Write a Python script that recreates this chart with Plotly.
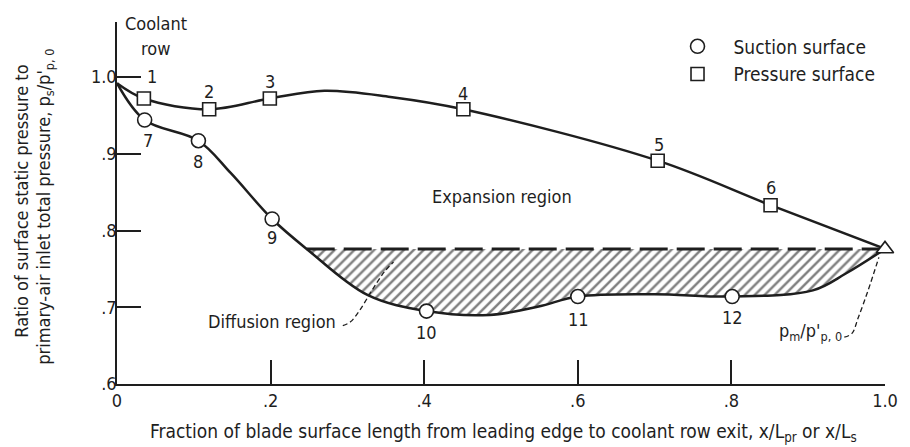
import plotly.graph_objects as go

# ---------------- data ----------------
# measured points (coolant rows)
press_x = [0.035, 0.120, 0.199, 0.451, 0.704, 0.851]
press_y = [0.972, 0.958, 0.972, 0.958, 0.891, 0.833]
press_labels = ["1", "2", "3", "4", "5", "6"]

suct_x = [0.036, 0.106, 0.202, 0.403, 0.600, 0.801]
suct_y = [0.944, 0.917, 0.815, 0.695, 0.714, 0.714]
suct_labels = ["7", "8", "9", "10", "11", "12"]

# mixed-out exit value p_m/p'_p,0
mix_x = [1.0]
mix_y = [0.776]

# faired curves as drawn in the picture (knots)
press_curve_x = [0.0, 0.035, 0.120, 0.199, 0.270, 0.356, 0.451, 0.704, 0.851, 1.0]
press_curve_y = [0.992, 0.972, 0.958, 0.972, 0.982, 0.974, 0.958, 0.891, 0.833, 0.776]

suct_curve_x = [0.0, 0.036, 0.106, 0.148, 0.202, 0.247, 0.326, 0.403, 0.485, 0.549,
                0.600, 0.700, 0.801, 0.906, 0.949, 1.0]
suct_curve_y = [0.992, 0.944, 0.917, 0.875, 0.815, 0.776, 0.716, 0.695, 0.690, 0.701,
                0.714, 0.717, 0.714, 0.722, 0.744, 0.776]

diffusion_level = 0.776
diffusion_start = 0.247

# leader lines
diff_leader_x = [0.294, 0.304, 0.316, 0.332, 0.348, 0.360]
diff_leader_y = [0.676, 0.681, 0.696, 0.722, 0.746, 0.759]
mix_leader_x = [0.947, 0.957, 0.965, 0.978, 0.992]
mix_leader_y = [0.661, 0.666, 0.686, 0.722, 0.765]

x_tickvals = [0, 0.2, 0.4, 0.6, 0.8, 1.0]
x_ticktext = ["0", ".2", ".4", ".6", ".8", "1.0"]
y_tickvals = [0.6, 0.7, 0.8, 0.9, 1.0]
y_ticktext = [".6", ".7", ".8", ".9", "1.0"]

# ---------------- figure ----------------
INK = "#1e1e1e"
FONT = "DejaVu Sans Condensed, Liberation Sans Narrow, Liberation Sans, sans-serif"
FS = 18

i0 = suct_curve_x.index(diffusion_start)
fill_x = suct_curve_x[i0:]
fill_y = suct_curve_y[i0:]

fig = go.Figure()

# dashed upper boundary of the diffusion region
fig.add_trace(go.Scatter(
    x=[diffusion_start, mix_x[0]], y=[diffusion_level, diffusion_level],
    mode="lines", line=dict(color=INK, width=3, dash="28px,9px"),
    showlegend=False, hoverinfo="skip"))

# hatched diffusion region
fig.add_trace(go.Scatter(
    x=fill_x, y=fill_y, mode="lines", line=dict(width=0, shape="spline"),
    fill="tonexty", fillcolor="rgba(0,0,0,0)",
    fillpattern=dict(shape="/", size=7, solidity=0.35, fgcolor="#000000",
                     bgcolor="rgba(0,0,0,0)"),
    showlegend=False, hoverinfo="skip"))

# faired curves
fig.add_trace(go.Scatter(
    x=suct_curve_x, y=suct_curve_y, mode="lines",
    line=dict(color=INK, width=2.5, shape="spline", smoothing=1.0),
    showlegend=False, hoverinfo="skip"))
fig.add_trace(go.Scatter(
    x=press_curve_x, y=press_curve_y, mode="lines",
    line=dict(color=INK, width=2.5, shape="spline", smoothing=1.0),
    showlegend=False, hoverinfo="skip"))

# leader lines
fig.add_trace(go.Scatter(
    x=diff_leader_x, y=diff_leader_y, mode="lines",
    line=dict(color=INK, width=1.3, dash="5px,3px", shape="spline"),
    showlegend=False, hoverinfo="skip"))
fig.add_trace(go.Scatter(
    x=mix_leader_x, y=mix_leader_y, mode="lines",
    line=dict(color=INK, width=1.3, dash="5px,3px", shape="spline"),
    showlegend=False, hoverinfo="skip"))

# measured points
fig.add_trace(go.Scatter(
    x=suct_x, y=suct_y, mode="markers", name="Suction surface",
    marker=dict(symbol="circle", size=14, color="white",
                line=dict(color=INK, width=1.6)),
    cliponaxis=False))
fig.add_trace(go.Scatter(
    x=press_x, y=press_y, mode="markers", name="Pressure surface",
    marker=dict(symbol="square", size=13, color="white",
                line=dict(color=INK, width=1.6)),
    cliponaxis=False))
fig.add_trace(go.Scatter(
    x=mix_x, y=mix_y, mode="markers", showlegend=False,
    marker=dict(symbol="triangle-up", size=15, color="white",
                line=dict(color=INK, width=1.6)),
    cliponaxis=False))

annotations = []
txt = dict(family=FONT, size=FS, color=INK)

# point numbers
press_shift = [(8, 22), (0, 18), (0, 17), (0, 16), (1, 16), (0, 18)]
for x, y, t, (dx, dy) in zip(press_x, press_y, press_labels, press_shift):
    annotations.append(dict(x=x, y=y, text=t, showarrow=False, xshift=dx,
                            yshift=dy, font=txt))
suct_shift = [(3, -20), (0, -21), (0, -18), (0, -21), (1, -23), (0, -21)]
for x, y, t, (dx, dy) in zip(suct_x, suct_y, suct_labels, suct_shift):
    annotations.append(dict(x=x, y=y, text=t, showarrow=False, xshift=dx,
                            yshift=dy, font=txt))

annotations += [
    dict(x=0.051, y=1.0704, text="Coolant", showarrow=False, font=txt),
    dict(x=0.050, y=1.0378, text="row", showarrow=False, font=txt),
    dict(x=0.501, y=0.844, text="Expansion region", showarrow=False, font=txt),
    dict(x=0.202, y=0.681, text="Diffusion region", showarrow=False, font=txt),
    dict(x=0.947, y=0.668, text="p<sub>m</sub>/p'<sub>p, 0</sub>",
         showarrow=False, xanchor="right", font=txt),
    # axis titles
    dict(xref="paper", yref="paper", x=0.503, y=-0.1326, xanchor="center",
         yanchor="middle",
         text="Fraction of blade surface length from leading edge to coolant row exit, "
              "x/L<sub>pr</sub> or x/L<sub>s</sub>",
         showarrow=False, font=dict(family=FONT, size=19, color=INK)),
    dict(xref="paper", yref="paper", x=0, xshift=-95, y=0.5036, textangle=-90,
         xanchor="center", yanchor="middle",
         text="Ratio of surface static pressure to", showarrow=False,
         font=dict(family=FONT, size=18, color=INK)),
    dict(xref="paper", yref="paper", x=0, xshift=-72, y=0.4898, textangle=-90,
         xanchor="center", yanchor="middle",
         text="primary-air inlet total pressure, p<sub>s</sub>/p'<sub>p, 0</sub>",
         showarrow=False, font=dict(family=FONT, size=18, color=INK)),
]

fig.update_layout(
    width=910, height=447, autosize=False,
    margin=dict(l=117, r=17, t=22, b=63),
    paper_bgcolor="white", plot_bgcolor="white",
    font=txt,
    showlegend=True,
    legend=dict(x=0.709, y=0.985, xanchor="left", yanchor="top",
                traceorder="normal", bgcolor="rgba(0,0,0,0)",
                font=dict(family=FONT, size=19, color=INK), itemwidth=62),
    annotations=annotations,
)
fig.update_xaxes(range=[0, 1.0], showgrid=False, zeroline=False, showline=True,
                 linecolor=INK, linewidth=1.5, ticks="inside", ticklen=24,
                 tickwidth=1.5, tickcolor=INK, tickvals=x_tickvals,
                 ticktext=x_ticktext, tickfont=txt)
fig.update_yaxes(range=[0.6, 1.0717], showgrid=False, zeroline=False, showline=True,
                 linecolor=INK, linewidth=1.5, ticks="inside", ticklen=24,
                 tickwidth=1.5, tickcolor=INK, tickvals=y_tickvals,
                 ticktext=y_ticktext, tickfont=txt, ticklabelstandoff=-5)

fig.write_html("out.html")
